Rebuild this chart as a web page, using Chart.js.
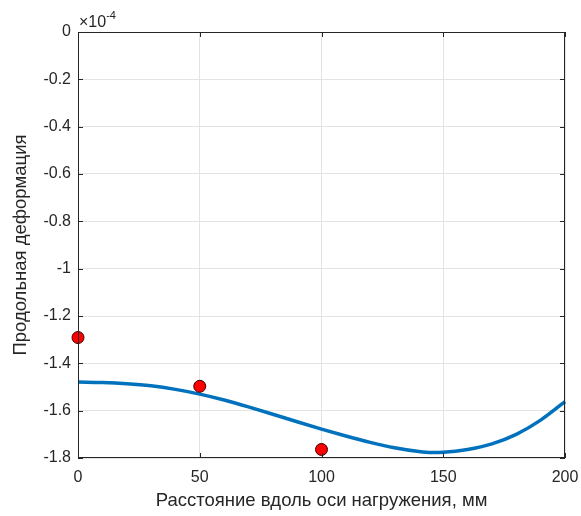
<!DOCTYPE html>
<html>
<head>
<meta charset="utf-8">
<script src="https://cdn.jsdelivr.net/npm/chart.js@4.4.0/dist/chart.umd.min.js"></script>
<style>
  html, body { margin: 0; padding: 0; background: #fff; }
  #wrap { width: 581px; height: 516px; }
</style>
</head>
<body>
<div id="wrap"><canvas id="chart"></canvas></div>
<script>
// значения в единицах 1e-4
const EXPONENT = -4;
const curveX = [0, 10, 20, 30, 40, 50, 60, 70, 80, 90, 100, 110, 120, 130, 140, 145, 150, 160, 170, 180, 190, 200];
const curveY = [-1.479, -1.481, -1.486, -1.495, -1.510, -1.530, -1.555, -1.584, -1.615, -1.647, -1.678, -1.707, -1.734, -1.757, -1.773, -1.777, -1.776, -1.764, -1.740, -1.700, -1.640, -1.562];
const expX = [0, 50, 100];
const expY = [-1.291, -1.497, -1.764];
const xTicks = [0, 50, 100, 150, 200];
const yTicks = [0, -0.2, -0.4, -0.6, -0.8, -1, -1.2, -1.4, -1.6, -1.8];

const AXIS_COLOR = '#262626';
const FONT = 'Liberation Sans, Arial, sans-serif';

// рамка, внутренние засечки и множитель ×10^-4
const boxPlugin = {
  id: 'box',
  afterDraw(chart) {
    const { ctx, chartArea: a, scales: { x, y } } = chart;
    ctx.save();
    ctx.strokeStyle = AXIS_COLOR;
    ctx.lineWidth = 1;
    ctx.strokeRect(a.left + 0.5, a.top + 0.5, a.right - a.left - 1, a.bottom - a.top - 1);
    const t = 5;
    ctx.beginPath();
    xTicks.forEach(v => {
      const px = Math.round(x.getPixelForValue(v)) + 0.5;
      ctx.moveTo(px, a.bottom); ctx.lineTo(px, a.bottom - t);
      ctx.moveTo(px, a.top); ctx.lineTo(px, a.top + t);
    });
    yTicks.forEach(v => {
      const py = Math.round(y.getPixelForValue(v)) + 0.5;
      ctx.moveTo(a.left, py); ctx.lineTo(a.left + t, py);
      ctx.moveTo(a.right, py); ctx.lineTo(a.right - t, py);
    });
    ctx.stroke();

    ctx.fillStyle = AXIS_COLOR;
    ctx.textBaseline = 'alphabetic';
    ctx.textAlign = 'left';
    ctx.font = '16px ' + FONT;
    ctx.fillText('\u00d710', a.left + 1, a.top - 5);
    const w = ctx.measureText('\u00d710').width;
    ctx.font = '11px ' + FONT;
    ctx.fillText(String(EXPONENT), a.left + 1 + w, a.top - 13);
    ctx.restore();
  }
};

new Chart(document.getElementById('chart'), {
  type: 'scatter',
  data: {
    datasets: [
      {
        data: curveX.map((v, i) => ({ x: v, y: curveY[i] })),
        showLine: true,
        borderColor: '#0072BD',
        borderWidth: 3.5,
        pointRadius: 0,
        cubicInterpolationMode: 'monotone',
        order: 2,
      },
      {
        data: expX.map((v, i) => ({ x: v, y: expY[i] })),
        pointRadius: 6,
        pointBackgroundColor: '#FF0000',
        pointBorderColor: '#3a0000',
        pointBorderWidth: 1,
        order: 1,
      },
    ],
  },
  options: {
    responsive: true,
    maintainAspectRatio: false,
    animation: false,
    clip: false,
    layout: { padding: { top: 32, right: 16, left: 0, bottom: 0 } },
    plugins: { legend: { display: false }, tooltip: { enabled: false } },
    scales: {
      x: {
        type: 'linear',
        min: 0, max: 200,
        afterFit: (s) => { s.height = 58; s.paddingLeft = 0; s.paddingRight = 0; },
        afterBuildTicks: (s) => { s.ticks = xTicks.map(v => ({ value: v })); },
        border: { display: false },
        grid: { color: '#e3e3e3', drawTicks: false },
        ticks: { color: AXIS_COLOR, font: { family: FONT, size: 16 }, padding: 10 },
        title: {
          display: true,
          text: 'Расстояние вдоль оси нагружения, мм',
          color: AXIS_COLOR,
          font: { family: FONT, size: 18.5 },
          padding: { top: 0, bottom: 4 },
        },
      },
      y: {
        type: 'linear',
        min: -1.8, max: 0,
        afterFit: (s) => { s.width = 78; s.paddingTop = 0; s.paddingBottom = 0; },
        afterBuildTicks: (s) => { s.ticks = yTicks.map(v => ({ value: v })); },
        border: { display: false },
        grid: { color: '#e3e3e3', drawTicks: false },
        ticks: {
          color: AXIS_COLOR,
          font: { family: FONT, size: 16 },
          padding: 7,
          callback: (v) => String(+v.toFixed(1)),
        },
        title: {
          display: true,
          text: 'Продольная деформация',
          color: AXIS_COLOR,
          font: { family: FONT, size: 18.5 },
          padding: { top: 10, bottom: 0 },
        },
      },
    },
  },
  plugins: [boxPlugin],
});
</script>
</body>
</html>
